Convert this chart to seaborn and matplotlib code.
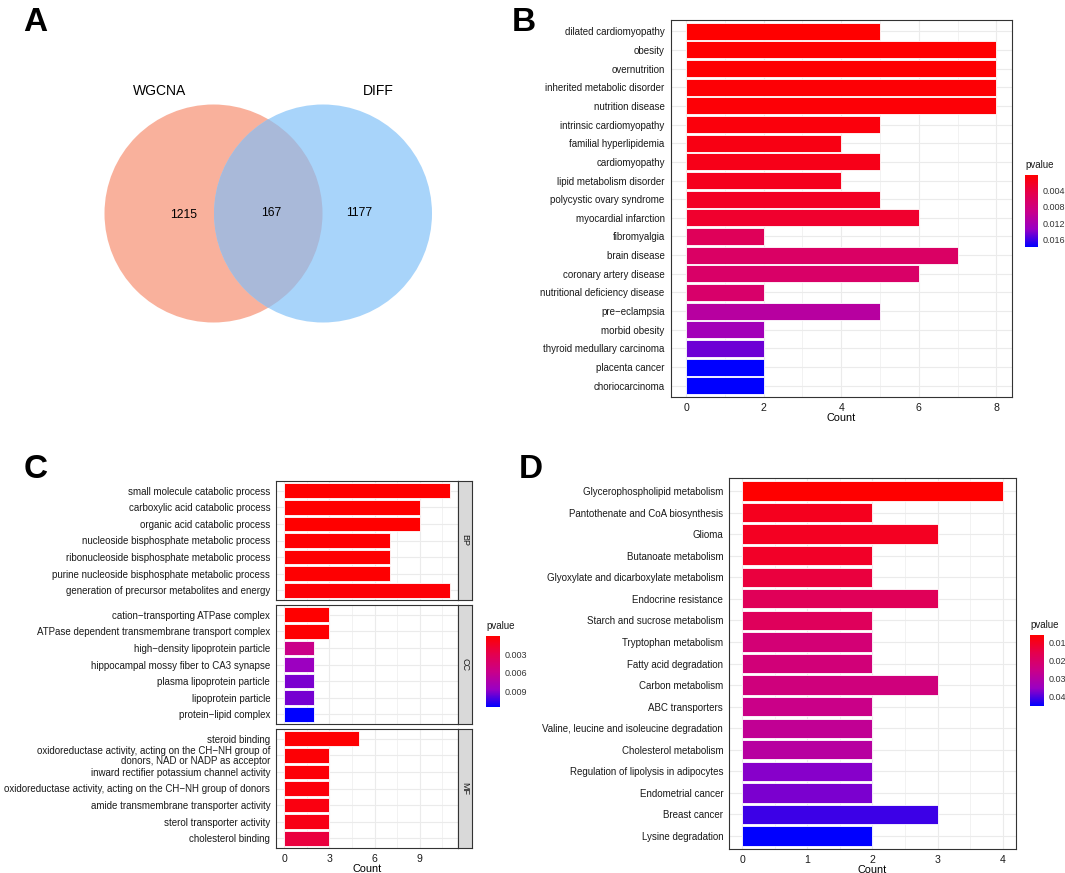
import numpy as np
import pandas as pd
import seaborn as sns
import matplotlib.pyplot as plt
from matplotlib.colors import LinearSegmentedColormap, Normalize
from matplotlib.cm import ScalarMappable
from matplotlib.patches import Circle
from matplotlib.ticker import MultipleLocator

# ---- data -------------------------------------------------------------
venn_names = ['WGCNA', 'DIFF']
venn_counts = [1215, 167, 1177]   # only WGCNA, both, only DIFF

b_terms = ['dilated cardiomyopathy', 'obesity', 'overnutrition', 'inherited metabolic disorder',
           'nutrition disease', 'intrinsic cardiomyopathy', 'familial hyperlipidemia', 'cardiomyopathy',
           'lipid metabolism disorder', 'polycystic ovary syndrome', 'myocardial infarction',
           'fibromyalgia', 'brain disease', 'coronary artery disease', 'nutritional deficiency disease',
           'pre\u2212eclampsia', 'morbid obesity', 'thyroid medullary carcinoma', 'placenta cancer',
           'choriocarcinoma']
b_count = [5, 8, 8, 8, 8, 5, 4, 5, 4, 5, 6, 2, 7, 6, 2, 5, 2, 2, 2, 2]
b_pvalue = [0.0003, 0.0004, 0.0005, 0.0006, 0.0007, 0.0010, 0.0014, 0.0017, 0.0020, 0.0024,
            0.0029, 0.0056, 0.0064, 0.0066, 0.0068, 0.0108, 0.0126, 0.0147, 0.0178, 0.0178]
b_ticks = [0.004, 0.008, 0.012, 0.016]

c_ontology = ['BP', 'CC', 'MF']
c_terms = {
    'BP': ['small molecule catabolic process', 'carboxylic acid catabolic process',
           'organic acid catabolic process', 'nucleoside bisphosphate metabolic process',
           'ribonucleoside bisphosphate metabolic process',
           'purine nucleoside bisphosphate metabolic process',
           'generation of precursor metabolites and energy'],
    'CC': ['cation\u2212transporting ATPase complex', 'ATPase dependent transmembrane transport complex',
           'high\u2212density lipoprotein particle', 'hippocampal mossy fiber to CA3 synapse',
           'plasma lipoprotein particle', 'lipoprotein particle', 'protein\u2212lipid complex'],
    'MF': ['steroid binding',
           'oxidoreductase activity, acting on the CH\u2212NH group of\ndonors, NAD or NADP as acceptor',
           'inward rectifier potassium channel activity',
           'oxidoreductase activity, acting on the CH\u2212NH group of donors',
           'amide transmembrane transporter activity', 'sterol transporter activity',
           'cholesterol binding'],
}
c_count = {'BP': [11, 9, 9, 7, 7, 7, 11],
           'CC': [3, 3, 2, 2, 2, 2, 2],
           'MF': [5, 3, 3, 3, 3, 3, 3]}
c_pvalue = {'BP': [0.0001, 0.0001, 0.0001, 0.0002, 0.0002, 0.0002, 0.0003],
            'CC': [0.0001, 0.0002, 0.0058, 0.0085, 0.0092, 0.0093, 0.0115],
            'MF': [0.0002, 0.0003, 0.0004, 0.0005, 0.0007, 0.0009, 0.0024]}
c_ticks = [0.003, 0.006, 0.009]

d_terms = ['Glycerophospholipid metabolism', 'Pantothenate and CoA biosynthesis', 'Glioma',
           'Butanoate metabolism', 'Glyoxylate and dicarboxylate metabolism', 'Endocrine resistance',
           'Starch and sucrose metabolism', 'Tryptophan metabolism', 'Fatty acid degradation',
           'Carbon metabolism', 'ABC transporters', 'Valine, leucine and isoleucine degradation',
           'Cholesterol metabolism', 'Regulation of lipolysis in adipocytes', 'Endometrial cancer',
           'Breast cancer', 'Lysine degradation']
d_count = [4, 2, 3, 2, 2, 3, 2, 2, 2, 3, 2, 2, 2, 2, 2, 3, 2]
d_pvalue = [0.0055, 0.0095, 0.0099, 0.0107, 0.0135, 0.0175, 0.0180, 0.0223, 0.0227, 0.0235,
            0.0255, 0.0275, 0.0295, 0.0367, 0.0375, 0.0415, 0.0455]
d_ticks = [0.01, 0.02, 0.03, 0.04]

# ---- style ------------------------------------------------------------
sns.set_style('white')
plt.rcParams['font.family'] = ['Liberation Sans', 'DejaVu Sans']
plt.rcParams['text.color'] = 'black'
plt.rcParams['axes.labelcolor'] = 'black'

# red -> blue the way ggplot blends it (through Lab)
cmap = LinearSegmentedColormap.from_list(
    'pv', ['#FF0000', '#E5004D', '#CA0088', '#9A00C3', '#0000FF'])

W, H = 1065, 873
fig = plt.figure(figsize=(W / 100, H / 100), dpi=100)


def box(x0, y0, x1, y1):
    return [x0 / W, 1 - y1 / H, (x1 - x0) / W, (y1 - y0) / H]


def draw_bars(ax, terms, counts, pvals, norm, xmax, major, minor):
    df = pd.DataFrame({'term': terms, 'Count': counts, 'pvalue': pvals})
    pal = {t: cmap(norm(p)) for t, p in zip(terms, pvals)}
    sns.barplot(data=df, x='Count', y='term', hue='term', palette=pal, legend=False,
                saturation=1, width=0.9, edgecolor='white', linewidth=0.6, ax=ax)
    ax.set_ylim(len(terms) - 0.4, -0.6)
    ax.set_xlim(-0.05 * xmax, 1.05 * xmax)
    ax.xaxis.set_major_locator(MultipleLocator(major))
    ax.xaxis.set_minor_locator(MultipleLocator(minor))
    ax.grid(which='major', axis='both', color='#EBEBEB', lw=0.8)
    ax.grid(which='minor', axis='x', color='#EBEBEB', lw=0.45)
    ax.set_axisbelow(True)
    for s in ax.spines.values():
        s.set_visible(True)
        s.set_color('#333333')
        s.set_linewidth(0.8)
    ax.tick_params(which='major', length=3, width=0.6, color='#333333',
                   labelsize=7, labelcolor='#1A1A1A', pad=1.2)
    ax.tick_params(axis='x', labelsize=7.6)
    ax.tick_params(which='minor', length=0)
    for lab in ax.get_yticklabels():
        lab.set_linespacing(0.95)
    ax.set_ylabel('')
    ax.set_xlabel('Count', fontsize=7.8, labelpad=0)


def add_cbar(rect, norm, ticks):
    cax = fig.add_axes(rect)
    cb = fig.colorbar(ScalarMappable(norm=norm, cmap=cmap), cax=cax, ticks=ticks)
    cax.invert_yaxis()
    cb.outline.set_visible(False)
    cax.tick_params(left=True, right=True, direction='in', color='white', length=2.2,
                    width=0.8, labelsize=6.5, labelcolor='#333333', pad=3)
    cb.set_ticklabels([f'{t:g}' for t in ticks])
    cax.set_title('pvalue', loc='left', fontsize=7, pad=5, color='#1A1A1A')


# ---- A: Venn ----------------------------------------------------------
ax = fig.add_axes(box(80, 60, 460, 340))
ax.set_xlim(80, 460)
ax.set_ylim(340, 60)
ax.set_aspect('equal')
ax.axis('off')
left = Circle((213.5, 213.5), 109, facecolor='#F9B19C', edgecolor='none')
right = Circle((323, 213.5), 109, facecolor='#A8D4FA', edgecolor='none')
ax.add_patch(left)
ax.add_patch(right)
both = Circle((323, 213.5), 109, facecolor='#A9B9D9', edgecolor='none')
ax.add_patch(both)
both.set_clip_path(left)
ax.text(160, 91, venn_names[0], fontsize=10, ha='center', va='center')
ax.text(378, 91, venn_names[1], fontsize=10, ha='center', va='center')
for x, y, n in zip([184, 271, 359], [215, 212.5, 213.5], venn_counts):
    ax.text(x, y, str(n), fontsize=8.7, ha='center', va='center')

# ---- B ----------------------------------------------------------------
norm_b = Normalize(min(b_pvalue), max(b_pvalue))
ax_b = fig.add_axes(box(670.5, 20, 1012, 397))
draw_bars(ax_b, b_terms, b_count, b_pvalue, norm_b, max(b_count), 2, 1)
add_cbar(box(1025, 175, 1038, 247), norm_b, b_ticks)

# ---- C (faceted by ontology) -------------------------------------------
all_c = sum(c_pvalue.values(), [])
norm_c = Normalize(min(all_c), max(all_c))
c_max = max(max(v) for v in c_count.values())
rows = [(481, 600), (605, 724), (729, 848)]
for i, (ont, (y0, y1)) in enumerate(zip(c_ontology, rows)):
    ax_c = fig.add_axes(box(276, y0, 458, y1))
    draw_bars(ax_c, c_terms[ont], c_count[ont], c_pvalue[ont], norm_c, c_max, 3, 1.5)
    if i < 2:
        ax_c.tick_params(axis='x', which='both', length=0, labelbottom=False)
        ax_c.set_xlabel('')
    strip = fig.add_axes(box(458, y0, 472, y1))
    strip.set_facecolor('#D9D9D9')
    strip.set_xticks([])
    strip.set_yticks([])
    for s in strip.spines.values():
        s.set_visible(True)
        s.set_color('#333333')
        s.set_linewidth(0.8)
    strip.text(0.5, 0.5, ont, rotation=270, ha='center', va='center', fontsize=6.5,
               color='#1A1A1A', transform=strip.transAxes)
add_cbar(box(486, 636, 500, 707), norm_c, c_ticks)

# ---- D ----------------------------------------------------------------
norm_d = Normalize(min(d_pvalue), max(d_pvalue))
ax_d = fig.add_axes(box(729, 478, 1016, 849))
draw_bars(ax_d, d_terms, d_count, d_pvalue, norm_d, max(d_count), 1, 0.5)
add_cbar(box(1030, 635, 1044, 706), norm_d, d_ticks)

# ---- panel letters ----------------------------------------------------
for lab, x, y in [('A', 23, 31), ('B', 512, 31), ('C', 24, 478), ('D', 519, 478)]:
    fig.text(x / W, 1 - y / H, lab, fontsize=24, fontweight='bold', color='black',
             ha='left', va='baseline')

fig.savefig('out.png', dpi=100)
